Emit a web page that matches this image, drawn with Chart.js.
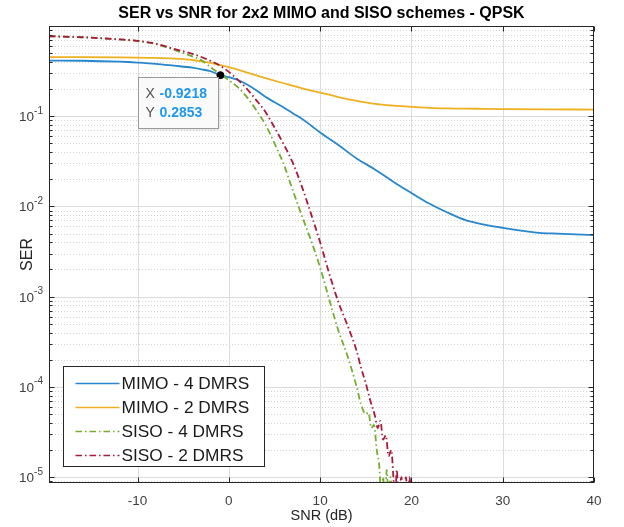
<!DOCTYPE html>
<html>
<head>
<meta charset="utf-8">
<script src="https://cdn.jsdelivr.net/npm/chart.js@4/dist/chart.umd.min.js"></script>
<style>
  html, body { margin: 0; padding: 0; background: #fff; }
  #wrap { position: relative; width: 624px; height: 527px; }
</style>
</head>
<body>
<div id="wrap"><canvas id="chart"></canvas></div>
<script>
// SNR (dB) / SER values
const snrMimo4 = [-19.7, -16, -12, -10, -8, -6, -4, -3, -2, -0.9218, 0, 1, 2, 3, 4, 5, 6, 7, 8, 9, 10,
  12, 14, 16, 18, 20, 22, 24, 26, 28, 30, 32, 34, 36, 38, 40];
const serMimo4 = [0.414, 0.412, 0.402, 0.393, 0.381, 0.363, 0.345, 0.331, 0.315, 0.2853, 0.271, 0.252, 0.225,
  0.194, 0.164, 0.143, 0.125, 0.108, 0.094, 0.079, 0.066, 0.048, 0.034, 0.0257, 0.0188, 0.0141, 0.0107,
  0.0085, 0.0070, 0.0063, 0.0058, 0.0054, 0.0051, 0.0050, 0.0049, 0.0048];

const snrMimo2 = [-19.7, -16, -12, -10, -8, -6, -4, -2, 0, 2, 4, 6, 8, 10, 12, 14, 16, 18, 20, 22, 24, 27, 30, 35, 40];
const serMimo2 = [0.452, 0.451, 0.449, 0.447, 0.443, 0.435, 0.42, 0.39, 0.35, 0.305, 0.265, 0.232, 0.204,
  0.183, 0.163, 0.148, 0.137, 0.131, 0.127, 0.124, 0.122, 0.121, 0.120, 0.119, 0.1186];

const snrSiso4 = [-19.7, -16, -12, -10, -8, -6, -4, -3, -2, -1, 0, 1, 2, 3, 4, 5, 6, 7, 8, 9, 10, 11, 12, 13, 14,
  14.5, 15, 15.3, 15.6, 15.9, 16.2, 16.5, 16.7, 16.9, 17.1, 17.3, 17.5, 17.7, 17.9];
const serSiso4 = [0.77, 0.75, 0.71, 0.683, 0.63, 0.545, 0.46, 0.418, 0.35, 0.295, 0.251, 0.209, 0.162, 0.117,
  0.081, 0.050, 0.0295, 0.0151, 0.0079, 0.0042, 0.0021, 9.3e-4, 4.2e-4, 2.2e-4, 1.0e-4,
  6.3e-5, 5.0e-5, 5.2e-5, 3.5e-5, 3.8e-5, 2.0e-5, 1.25e-5, 5e-6, 1.0e-5, 5e-6, 1.2e-5, 5e-6, 1.0e-5, 5e-6];

const snrSiso2 = [-19.7, -16, -12, -10, -8, -6, -4, -2, -1, 0, 1, 2, 3, 4, 5, 6, 7, 8, 9, 10, 11, 12, 13, 14,
  14.5, 15, 15.5, 16, 16.3, 16.6, 16.9, 17.2, 17.5, 17.8, 18.0, 18.2, 18.4, 18.6, 18.9, 19.1, 19.4, 19.6, 19.8, 20.0];
const serSiso2 = [0.77, 0.75, 0.71, 0.685, 0.637, 0.557, 0.492, 0.411, 0.365, 0.31, 0.253, 0.2, 0.151, 0.112,
  0.075, 0.049, 0.0306, 0.0166, 0.0083, 0.0040, 0.0018, 8.7e-4, 4.8e-4, 2.5e-4,
  1.6e-4, 1.1e-4, 7.0e-5, 4.8e-5, 3.5e-5, 4.2e-5, 2.6e-5, 2.9e-5, 1.7e-5, 2.0e-5, 1.1e-5,
  5e-6, 1.2e-5, 5e-6, 1.0e-5, 5e-6, 1.0e-5, 5e-6, 1.0e-5, 5e-6];

const seriesLabels = ['MIMO - 4 DMRS', 'MIMO - 2 DMRS', 'SISO - 4 DMRS', 'SISO - 2 DMRS'];

// axes
const xTicks = [-10, 0, 10, 20, 30, 40];
const yTicks = [1e-5, 1e-4, 1e-3, 1e-2, 1e-1];
const yTickExp = ['-5', '-4', '-3', '-2', '-1'];

// data tip
const tipX = [-0.9218];
const tipY = [0.2853];

const FONT = '"Liberation Sans", Arial, Helvetica, sans-serif';
const INK = '#262626';

const toXY = (xs, ys) => xs.map((x, i) => ({ x: x, y: ys[i] }));

function seg(ctx, x1, y1, x2, y2) {
  ctx.beginPath();
  ctx.moveTo(x1, y1);
  ctx.lineTo(x2, y2);
  ctx.stroke();
}

const matlabAxes = {
  id: 'matlabAxes',
  beforeDatasetsDraw(chart) {
    const { ctx, chartArea: a, scales: { x, y } } = chart;
    ctx.save();
    ctx.lineWidth = 1;

    // minor grid, dotted, y only
    ctx.strokeStyle = '#d4d4d4';
    ctx.setLineDash([1, 2]);
    for (let e = -6; e <= 0; e++) {
      for (let k = 2; k <= 9; k++) {
        const v = k * Math.pow(10, e);
        if (v <= y.min || v >= y.max) continue;
        const py = Math.round(y.getPixelForValue(v)) + 0.5;
        seg(ctx, a.left, py, a.right, py);
      }
    }
    ctx.setLineDash([]);

    // major grid
    ctx.strokeStyle = '#dcdcdc';
    yTicks.forEach(v => {
      const py = Math.round(y.getPixelForValue(v)) + 0.5;
      seg(ctx, a.left, py, a.right, py);
    });
    xTicks.forEach(v => {
      if (v >= x.max) return;
      const px = Math.round(x.getPixelForValue(v)) + 0.5;
      seg(ctx, px, a.top, px, a.bottom);
    });
    ctx.restore();
  },
  afterDatasetsDraw(chart) {
    const { ctx, chartArea: a, scales: { x, y } } = chart;
    ctx.save();

    // box and ticks
    ctx.strokeStyle = INK;
    ctx.lineWidth = 1;
    const L = Math.round(a.left) + 0.5, R = Math.round(a.right) - 0.5;
    const T = Math.round(a.top) + 0.5, B = Math.round(a.bottom) - 0.5;
    ctx.strokeRect(L, T, R - L, B - T);
    for (let e = -6; e <= 0; e++) {
      for (let k = 1; k <= 9; k++) {
        const v = k * Math.pow(10, e);
        if (v <= y.min || v >= y.max) continue;
        const py = Math.round(y.getPixelForValue(v)) + 0.5;
        const len = k === 1 ? 5 : 3;
        seg(ctx, L, py, L + len, py);
        seg(ctx, R, py, R - len, py);
      }
    }
    xTicks.forEach(v => {
      const px = Math.round(x.getPixelForValue(v)) + 0.5;
      seg(ctx, px, B, px, B - 5);
      seg(ctx, px, T, px, T + 5);
    });

    // tick labels
    ctx.fillStyle = '#404040';
    ctx.textBaseline = 'alphabetic';
    yTicks.forEach((v, i) => {
      const py = y.getPixelForValue(v);
      ctx.font = '10px ' + FONT;
      const we = ctx.measureText(yTickExp[i]).width;
      ctx.textAlign = 'left';
      const ex = a.left - 6 - we;
      ctx.fillText(yTickExp[i], ex, py - 2.5);
      ctx.font = '13.5px ' + FONT;
      ctx.textAlign = 'right';
      ctx.fillText('10', ex, py + 5);
    });
    ctx.font = '13.5px ' + FONT;
    ctx.textAlign = 'center';
    ctx.textBaseline = 'middle';
    xTicks.forEach(v => {
      ctx.fillText(String(v), x.getPixelForValue(v), a.bottom + 18);
    });

    // axis titles + title
    ctx.fillStyle = INK;
    const cx = (a.left + a.right) / 2;
    ctx.font = '14.5px ' + FONT;
    ctx.fillText('SNR (dB)', cx, a.bottom + 33);
    ctx.save();
    ctx.translate(a.left - 21, (a.top + a.bottom) / 2);
    ctx.rotate(-Math.PI / 2);
    ctx.font = '16px ' + FONT;
    ctx.fillText('SER', 0, 0);
    ctx.restore();
    ctx.font = 'bold 16px ' + FONT;
    ctx.fillStyle = '#000';
    ctx.fillText('SER vs SNR for 2x2 MIMO and SISO schemes - QPSK', cx, 14);

    // legend box inside the axes, lower left
    const lg = { x: Math.round(a.left) + 14.5, y: Math.round(a.bottom) - 116.5, w: 201, h: 100 };
    ctx.fillStyle = '#fff';
    ctx.fillRect(lg.x, lg.y, lg.w, lg.h);
    ctx.strokeStyle = INK;
    ctx.strokeRect(lg.x, lg.y, lg.w, lg.h);
    ctx.font = '17.3px ' + FONT;
    ctx.textAlign = 'left';
    chart.data.datasets.filter(d => d.label).forEach((d, i) => {
      const ry = Math.round(lg.y + 16 + i * 24.3) + 0.5;
      ctx.strokeStyle = d.borderColor;
      ctx.lineWidth = 1.6;
      ctx.setLineDash(d.borderDash || []);
      seg(ctx, lg.x + 12, ry, lg.x + 56, ry);
      ctx.setLineDash([]);
      ctx.fillStyle = '#1a1a1a';
      ctx.fillText(d.label, lg.x + 58, ry + 1);
    });

    // data tip
    const px = x.getPixelForValue(tipX[0]);
    const py = y.getPixelForValue(tipY[0]);
    const bx = Math.round(px) - 81.5, by = Math.round(py) + 2.5, bw = 80, bh = 51;
    ctx.shadowColor = 'rgba(0,0,0,0.18)';
    ctx.shadowBlur = 3;
    ctx.shadowOffsetX = 1;
    ctx.shadowOffsetY = 1;
    ctx.fillStyle = '#fafafa';
    ctx.fillRect(bx, by, bw, bh);
    ctx.shadowColor = 'transparent';
    ctx.strokeStyle = '#9a9a9a';
    ctx.lineWidth = 1;
    ctx.strokeRect(bx, by, bw, bh);
    ctx.textBaseline = 'middle';
    ctx.font = '14px ' + FONT;
    ctx.fillStyle = '#505050';
    ctx.fillText('X', bx + 7, by + 17);
    ctx.fillText('Y', bx + 7, by + 36);
    ctx.font = 'bold 14px ' + FONT;
    ctx.fillStyle = '#1f98ee';
    ctx.fillText(tipX[0].toFixed(4), bx + 21, by + 17);
    ctx.fillText(tipY[0].toFixed(4), bx + 21, by + 36);

    ctx.restore();
  }
};

const dashDot = [6.5, 3, 1.5, 3];

new Chart(document.getElementById('chart'), {
  type: 'line',
  data: {
    datasets: [
      {
        label: seriesLabels[0],
        data: toXY(snrMimo4, serMimo4),
        borderColor: '#2886cc',
        borderWidth: 1.8,
        order: 3
      },
      {
        label: seriesLabels[1],
        data: toXY(snrMimo2, serMimo2),
        borderColor: '#edb120',
        borderWidth: 1.8,
        order: 2
      },
      {
        label: seriesLabels[2],
        data: toXY(snrSiso4, serSiso4),
        borderColor: '#77ac30',
        borderWidth: 1.8,
        borderDash: dashDot,
        order: 1
      },
      {
        label: seriesLabels[3],
        data: toXY(snrSiso2, serSiso2),
        borderColor: '#a8193a',
        borderWidth: 1.8,
        borderDash: dashDot,
        order: 0
      },
      {
        label: '',
        type: 'scatter',
        data: toXY(tipX, tipY),
        pointRadius: 3.5,
        pointBackgroundColor: '#000',
        pointBorderColor: '#000',
        showLine: false,
        order: -1
      }
    ]
  },
  options: {
    responsive: true,
    maintainAspectRatio: false,
    animation: false,
    devicePixelRatio: 1,
    clip: 0,
    layout: { padding: { left: 0, right: 30, top: 26, bottom: 0 } },
    elements: {
      point: { radius: 0 },
      line: { cubicInterpolationMode: 'monotone', fill: false }
    },
    plugins: {
      legend: { display: false },
      tooltip: { enabled: false },
      title: { display: false }
    },
    scales: {
      x: {
        type: 'linear',
        min: -19.7,
        max: 40,
        grid: { display: false },
        border: { display: false },
        ticks: { display: false },
        afterFit: s => { s.height = 44; }
      },
      y: {
        type: 'logarithmic',
        min: 8.6e-6,
        max: 1,
        grid: { display: false },
        border: { display: false },
        ticks: { display: false },
        afterFit: s => { s.width = 49; }
      }
    }
  },
  plugins: [matlabAxes]
});
</script>
</body>
</html>
